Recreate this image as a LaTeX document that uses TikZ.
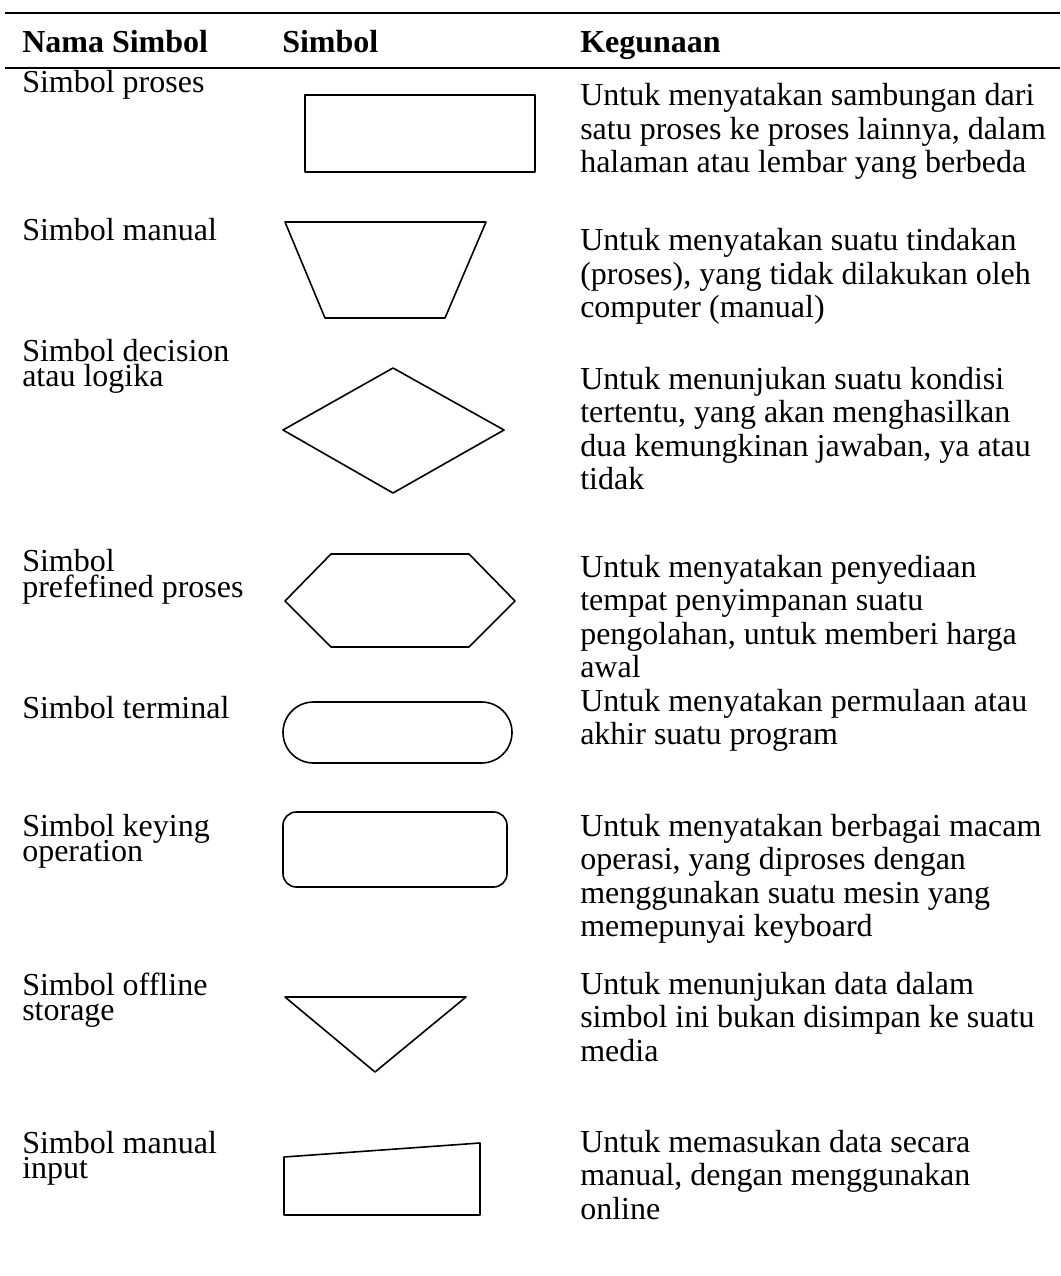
\documentclass[tikz,border=0pt]{standalone}
\usepackage{fontspec}
\setmainfont{Liberation Serif}
\begin{document}
\begin{tikzpicture}[x=0.75pt,y=-0.75pt,
  txt/.style={anchor=base west, inner sep=0pt, font=\fontsize{24}{25}\selectfont},
  hdr/.style={anchor=base west, inner sep=0pt, font=\fontsize{24}{25}\selectfont\bfseries},
  sym/.style={line width=1.2pt, line join=round},
  rule/.style={line width=1.9pt}]
\useasboundingbox (0,0) rectangle (1060,1276);

% table rules
\draw[rule] (5,13) -- (1060,13);
\draw[rule] (5,68) -- (1060,68);

% header
\node[hdr] (h1) at (22,53) {Nama Simbol};
\node[hdr] (h2) at (282,53) {Simbol};
\node[hdr] (h3) at (580,53) {Kegunaan};

% symbol names
\node[txt] (n1) at (22,93) {Simbol proses};
\node[txt] (n2) at (22,241) {Simbol manual};
\node[txt] (n3a) at (22,362) {Simbol decision};
\node[txt] (n3b) at (22,387) {atau logika};
\node[txt] (n4a) at (22,571) {Simbol};
\node[txt] (n4b) at (22,597) {prefefined proses};
\node[txt] (n5) at (22,718) {Simbol terminal};
\node[txt] (n6a) at (22,836) {Simbol keying};
\node[txt] (n6b) at (22,861) {operation};
\node[txt] (n7a) at (22,995) {Simbol offline};
\node[txt] (n7b) at (22,1020) {storage};
\node[txt] (n8a) at (22,1153) {Simbol manual};
\node[txt] (n8b) at (22,1178) {input};

% descriptions
\node[txt] (d1a) at (580,106) {Untuk menyatakan sambungan dari};
\node[txt] (d1b) at (580,139.5) {satu proses ke proses lainnya, dalam};
\node[txt] (d1c) at (580,173) {halaman atau lembar yang berbeda};

\node[txt] (d2a) at (580,251) {Untuk menyatakan suatu tindakan};
\node[txt] (d2b) at (580,284.5) {(proses), yang tidak dilakukan oleh};
\node[txt] (d2c) at (580,318) {computer (manual)};

\node[txt] (d3a) at (580,389) {Untuk menunjukan suatu kondisi};
\node[txt] (d3b) at (580,422.5) {tertentu, yang akan menghasilkan};
\node[txt] (d3c) at (580,456) {dua kemungkinan jawaban, ya atau};
\node[txt] (d3d) at (580,489.5) {tidak};

\node[txt] (d4a) at (580,577) {Untuk menyatakan penyediaan};
\node[txt] (d4b) at (580,610.5) {tempat penyimpanan suatu};
\node[txt] (d4c) at (580,644) {pengolahan, untuk memberi harga};
\node[txt] (d4d) at (580,677.5) {awal};

\node[txt] (d5a) at (580,711) {Untuk menyatakan permulaan atau};
\node[txt] (d5b) at (580,744.5) {akhir suatu program};

\node[txt] (d6a) at (580,836) {Untuk menyatakan berbagai macam};
\node[txt] (d6b) at (580,869.5) {operasi, yang diproses dengan};
\node[txt] (d6c) at (580,903) {menggunakan suatu mesin yang};
\node[txt] (d6d) at (580,936.5) {memepunyai keyboard};

\node[txt] (d7a) at (580,994) {Untuk menunjukan data dalam};
\node[txt] (d7b) at (580,1027.5) {simbol ini bukan disimpan ke suatu};
\node[txt] (d7c) at (580,1061) {media};

\node[txt] (d8a) at (580,1152) {Untuk memasukan data secara};
\node[txt] (d8b) at (580,1185.5) {manual, dengan menggunakan};
\node[txt] (d8c) at (580,1219) {online};

% flowchart symbols
% process
\draw[sym] (305,95) rectangle (535,172);
% manual operation
\draw[sym] (285,222) -- (486,222) -- (445,318) -- (325,318) -- cycle;
% decision
\draw[sym] (283,430) -- (393,368) -- (504,430) -- (393,493) -- cycle;
% predefined process (hexagon)
\draw[sym] (285,601) -- (331,554) -- (469,554) -- (515,601) -- (469,647) -- (331,647) -- cycle;
% terminal
\draw[sym, rounded corners=30.5*0.75pt] (283,702) rectangle (512,763);
% keying operation
\draw[sym, rounded corners=10pt] (283,812) rectangle (507,887);
% offline storage
\draw[sym] (285,997) -- (466,997) -- (375,1072) -- cycle;
% manual input
\draw[sym] (284,1157) -- (480,1143) -- (480,1215) -- (284,1215) -- cycle;
\end{tikzpicture}
\end{document}
